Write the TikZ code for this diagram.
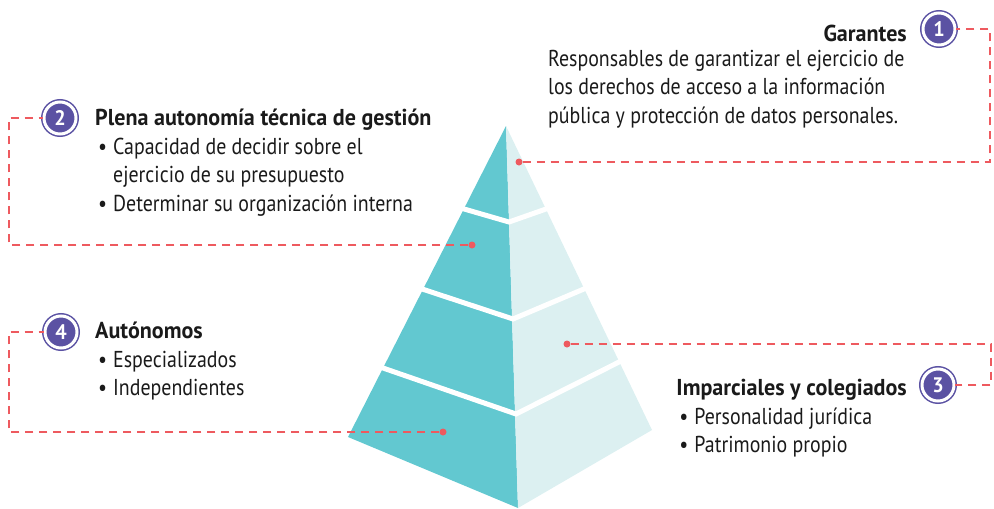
\documentclass[tikz,border=0pt]{standalone}
\usepackage{fontspec}
\setmainfont{PT Sans}[FakeStretch=0.865, BoldFeatures={FakeStretch=0.96}]
\usetikzlibrary{positioning}

\definecolor{tealface}{HTML}{62C8D0}
\definecolor{paleface}{HTML}{DCF0F1}
\definecolor{numpurple}{HTML}{5B52A3}
\definecolor{dashred}{HTML}{EE5A5F}
\definecolor{inktext}{HTML}{1A1A1A}

\newcommand{\bul}{\textbullet\hspace{6pt}}

\tikzset{
  headtxt/.style = {font = \fontsize{23}{28.5}\selectfont\bfseries, text = inktext, inner sep = 0pt},
  bodytxt/.style = {font = \fontsize{23}{28.5}\selectfont, text = inktext, inner sep = 0pt, align = left},
  numcirc/.style = {circle, minimum size = 32pt, inner sep = 0pt, fill = numpurple, draw = numpurple, line width = 1.5pt, double = white, double distance = 3pt, text = white, font = \fontsize{21}{21}\selectfont\bfseries},
  reddot/.style = {circle, fill = dashred, minimum size = 7pt, inner sep = 0pt},
  dashline/.style = {draw = dashred, line width = 1.4pt, dash pattern = on 8pt off 6pt},
  layergap/.style = {draw = white, line width = 5pt}
}

\begin{document}
\begin{tikzpicture}[x = 1pt, y = -1pt]
\useasboundingbox (0,0) rectangle (994,509);

% pyramid faces
\coordinate (apex) at (506,126);
\coordinate (lcorner) at (348,437);
\coordinate (front) at (518,508);
\coordinate (rcorner) at (652,430);
\fill[tealface] (apex) -- (lcorner) -- (front) -- cycle;
\fill[paleface] (apex) -- (front) -- (rcorner) -- cycle;
\draw[layergap] (460,207.8) -- (509,222) -- (550,207.6);
\draw[layergap] (418.2,287.7) -- (513,319) -- (587.7,287.4);
\draw[layergap] (379.2,366.7) -- (516,414) -- (622.6,360.2);

% markers and numbers
\node[reddot] (d1) at (519,162) {};
\node[reddot] (d2) at (472,245) {};
\node[reddot] (d3) at (567,344) {};
\node[reddot] (d4) at (443,432) {};
\node[numcirc] (n1) at (939,29) {1};
\node[numcirc] (n2) at (60,118) {2};
\node[numcirc] (n3) at (938,385) {3};
\node[numcirc] (n4) at (61,332) {4};

\coordinate (k1) at (990,162);
\coordinate (k2) at (9,245);
\coordinate (k3) at (991,344);
\coordinate (k4) at (9,432);
\draw[dashline] (d1) -- (k1) |- (n1);
\draw[dashline] (d2) -- (k2) |- (n2);
\draw[dashline] (d3) -- (k3) |- (n3);
\draw[dashline] (d4) -- (k4) |- (n4);

% texts (base anchor of a multi-line node sits on its last line)
\node[headtxt, anchor = base east] (t1) at (907,41) {Garantes};
\node[bodytxt, anchor = base west] (b1) at ([xshift = -359pt, yshift = -82pt]t1.base east) {Responsables de garantizar el ejercicio de\\ los derechos de acceso a la información\\ pública y protección de datos personales.};

\node[headtxt, anchor = base west] (t2) at (95,125) {Plena autonomía técnica de gestión};
\node[bodytxt, anchor = base west] (b2) at ([xshift = 3pt, yshift = -86pt]t2.base west) {\bul Capacidad de decidir sobre el\\ \hphantom{\bul}ejercicio de su presupuesto\\ \bul Determinar su organización interna};

\node[headtxt, anchor = base east] (t3) at (907,395) {Imparciales y colegiados};
\node[bodytxt, anchor = base west] (b3) at ([xshift = 3pt, yshift = -57.5pt]t3.base west) {\bul Personalidad jurídica\\ \bul Patrimonio propio};

\node[headtxt, anchor = base west] (t4) at (95,338) {Autónomos};
\node[bodytxt, anchor = base west] (b4) at ([xshift = 3pt, yshift = -57.5pt]t4.base west) {\bul Especializados\\ \bul Independientes};
\end{tikzpicture}
\end{document}
